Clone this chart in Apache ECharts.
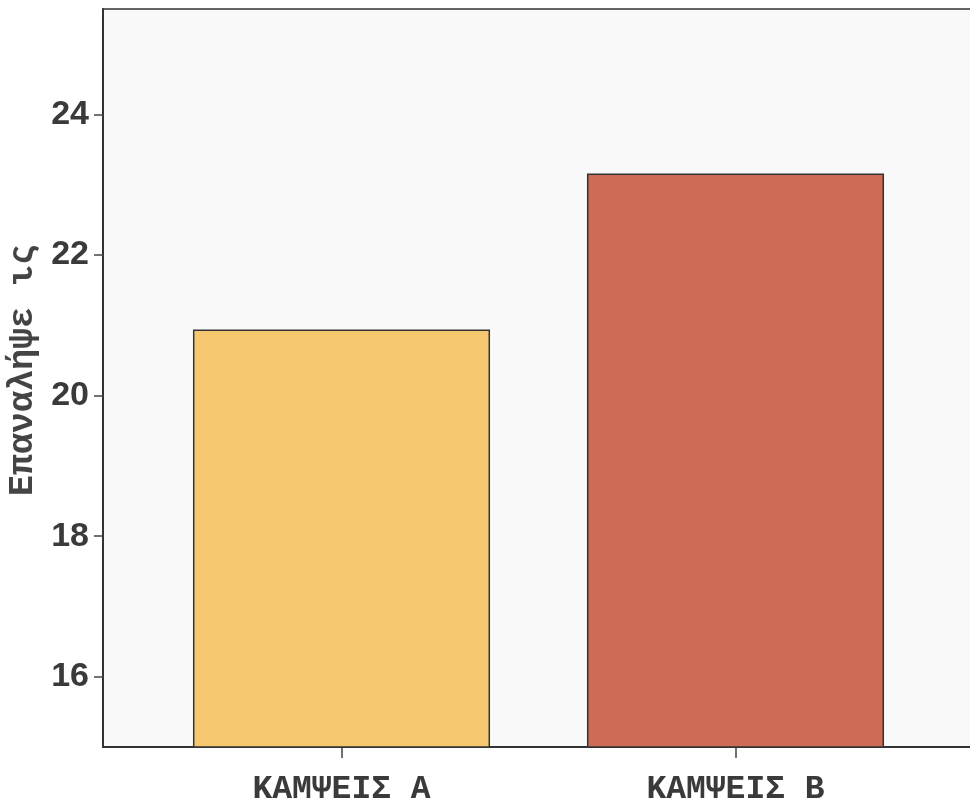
<!DOCTYPE html>
<html>
<head>
<meta charset="utf-8">
<script src="https://cdn.jsdelivr.net/npm/echarts@6/dist/echarts.min.js"></script>
<style>html,body{margin:0;padding:0;background:#fff;}#c{width:970px;height:808px;}</style>
</head>
<body>
<div id="c"></div>
<script>
const categories = ['ΚΑΜΨΕΙΣ Α', 'ΚΑΜΨΕΙΣ Β'];
const values = [20.94, 23.16];
const barColors = ['#F5C870', '#CD6B57'];
const yTicks = [16, 18, 20, 22, 24];
const yMin = 15, yMax = 25.5;
const yName = 'Επαναλήψε ις';

const chart = echarts.init(document.getElementById('c'), null, {renderer: 'canvas'});
chart.setOption({
  animation: false,
  backgroundColor: '#ffffff',
  grid: [
    {left: 103, right: -3, top: 9, bottom: 61, containLabel: false, outerBoundsMode: 'none',
     show: true, backgroundColor: '#f9f9f9', borderColor: '#333', borderWidth: 1.5},
    {left: 144.5, right: 37.5, top: 9, bottom: 61, containLabel: false, outerBoundsMode: 'none'}
  ],
  xAxis: [
    {gridIndex: 0, type: 'value', min: 0, max: 1, axisLine: {show: true, lineStyle: {color: '#333', width: 2}},
     axisTick: {show: false}, axisLabel: {show: false}, splitLine: {show: false}},
    {gridIndex: 1, type: 'category', data: categories,
     axisLine: {show: false},
     axisTick: {show: true, alignWithLabel: true, length: 11, lineStyle: {color: '#444', width: 1.5}},
     axisLabel: {margin: 26, fontFamily: 'Liberation Mono', fontWeight: 'bold', fontSize: 33, color: '#3a3a3a'}}
  ],
  yAxis: [
    {gridIndex: 0, type: 'value', min: yMin, max: yMax,
     name: yName, nameLocation: 'middle', nameRotate: 90, nameGap: 58,
     nameTextStyle: {fontFamily: 'Liberation Mono', fontWeight: 'bold', fontSize: 35, color: '#444', padding: [0, 0, 0, 16]},
     axisLine: {show: true, lineStyle: {color: '#333', width: 2}},
     axisTick: {show: true, length: 9, customValues: yTicks, lineStyle: {color: '#444', width: 1.5}},
     axisLabel: {customValues: yTicks, margin: 14, fontFamily: 'Liberation Sans', fontWeight: 'bold', fontSize: 34, color: '#3a3a3a'},
     splitLine: {show: false}},
    {gridIndex: 1, type: 'value', min: yMin, max: yMax, show: false, splitLine: {show: false}}
  ],
  series: [{
    type: 'bar', xAxisIndex: 1, yAxisIndex: 1, barWidth: '75.4%', clip: true,
    data: values.map((v, i) => ({value: v, itemStyle: {color: barColors[i]}})),
    itemStyle: {borderColor: '#333', borderWidth: 1.5}
  }]
});
</script>
</body>
</html>
